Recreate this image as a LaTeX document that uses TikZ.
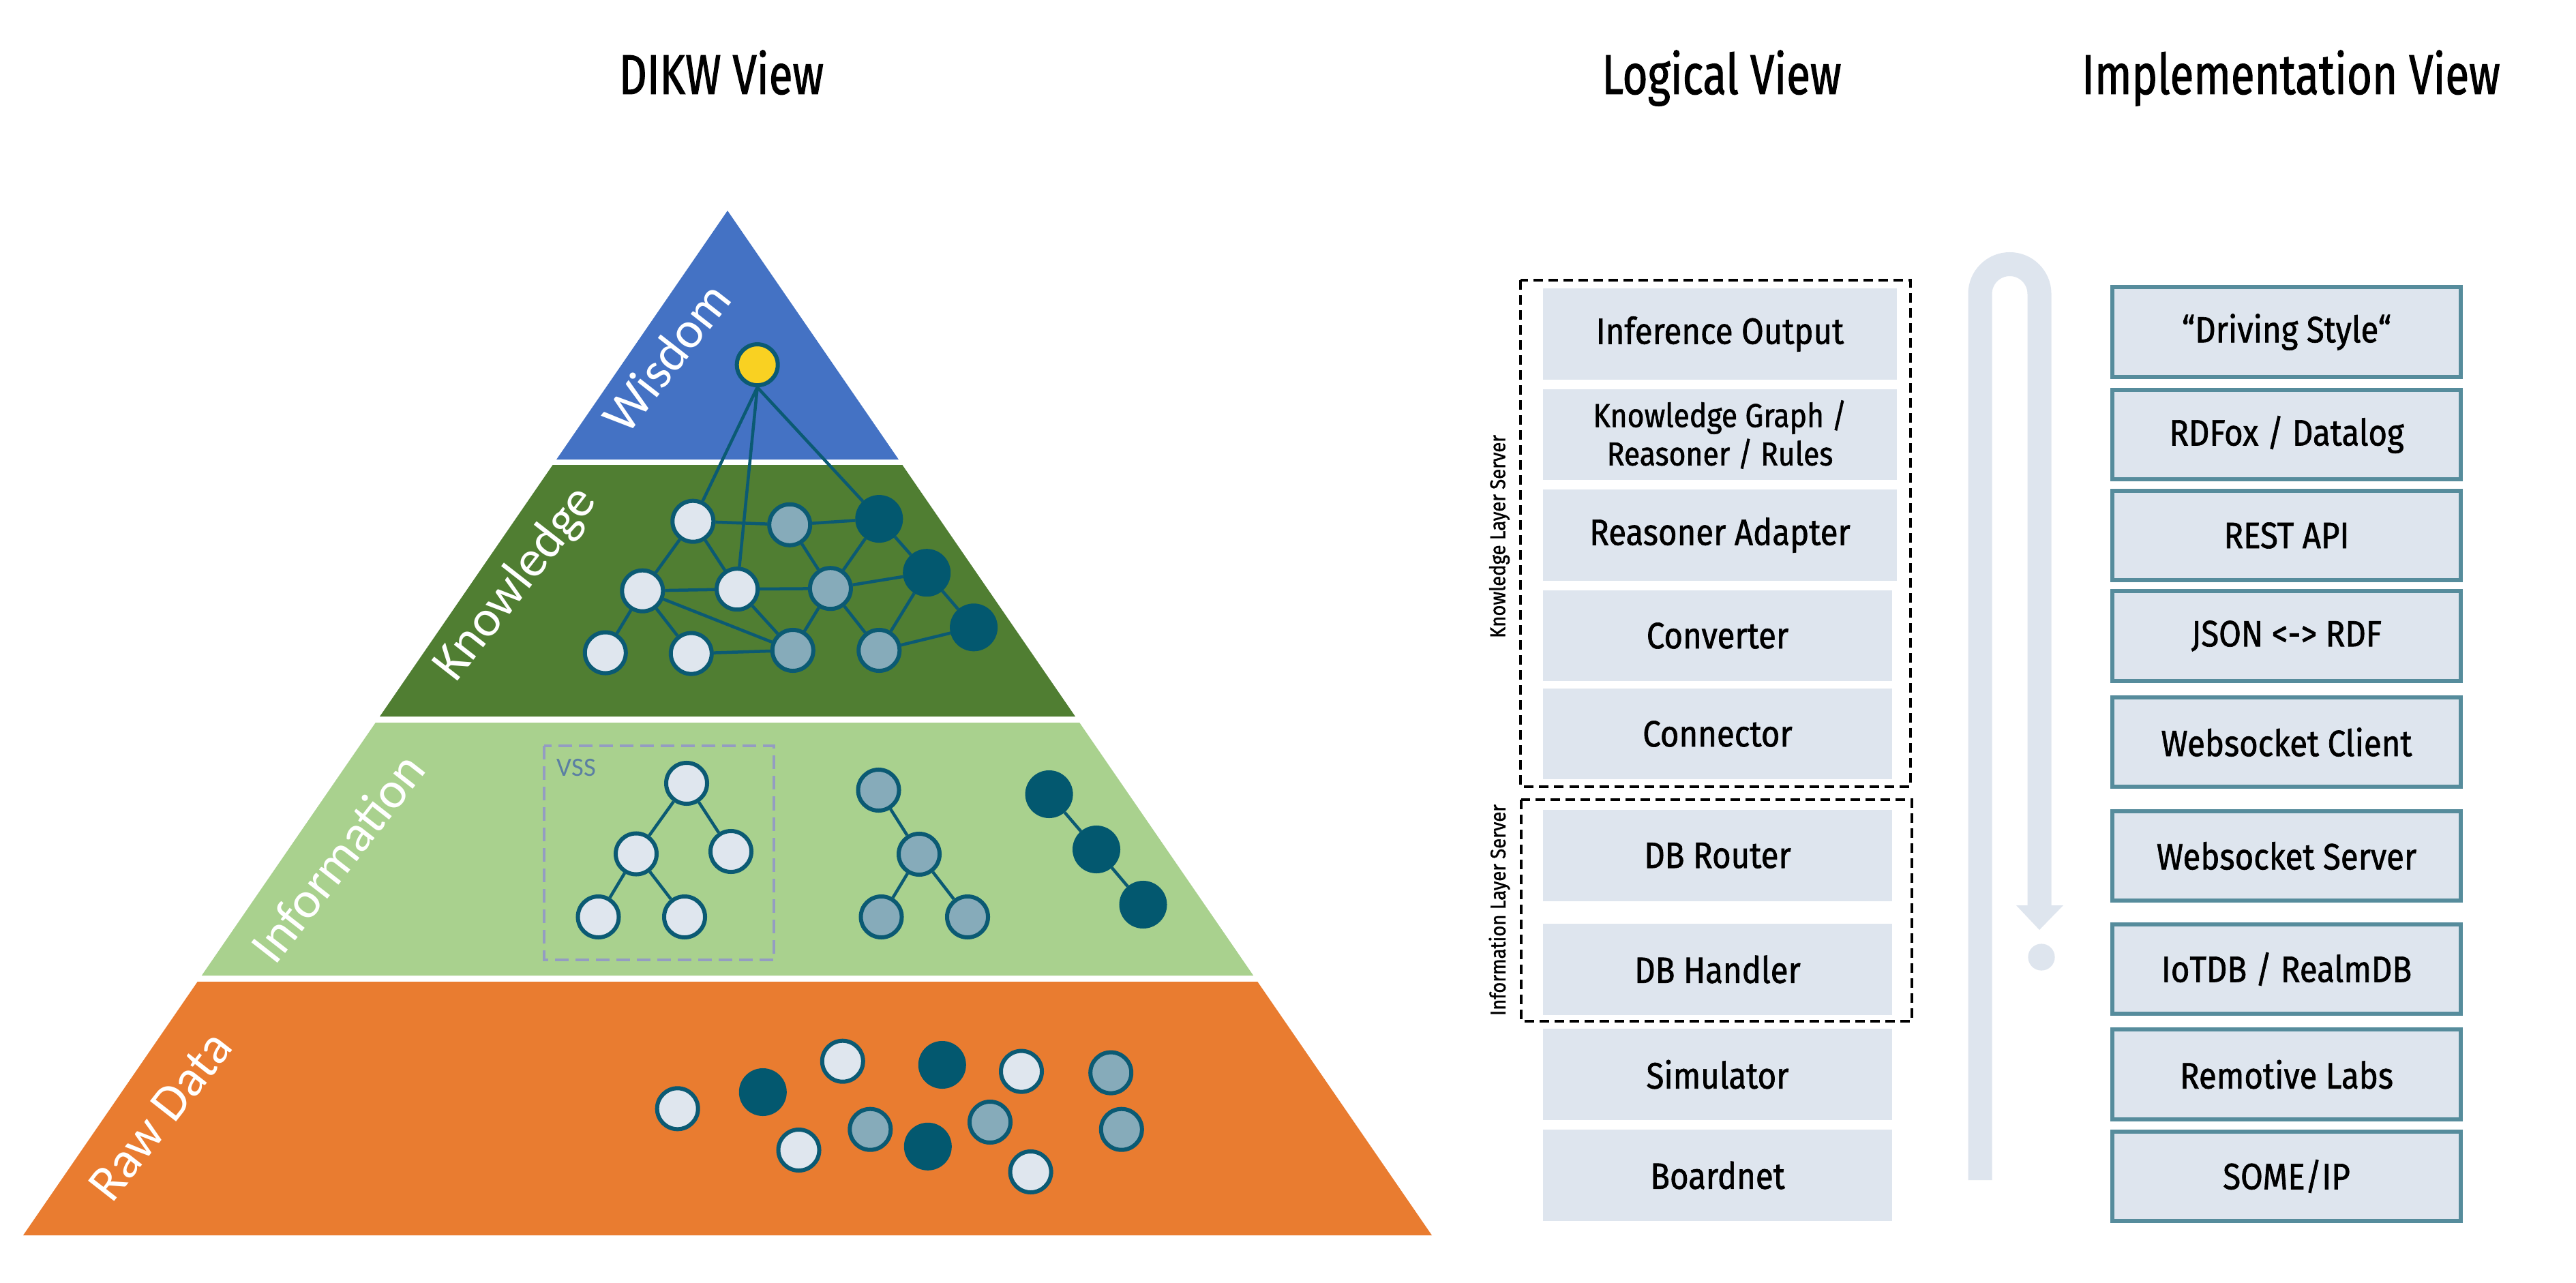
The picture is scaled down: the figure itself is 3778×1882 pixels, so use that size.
\documentclass[tikz,border=0pt]{standalone}
\usepackage{fontspec}
\setmainfont{Fira Sans}[FakeStretch=0.88, FakeBold=1.2]
\newfontfamily\ttlfamily{Fira Sans}[FakeStretch=0.77, FakeBold=1.2]
\newfontfamily\pyrfamily{Carlito}
\newcommand{\bxfont}{\fontsize{15.3pt}{18pt}\selectfont}
\newcommand{\kgfont}{\fontsize{13.8pt}{16pt}\selectfont}
\newcommand{\ttlfont}{\ttlfamily\fontsize{23.5pt}{26pt}\selectfont}
\newcommand{\pyrfont}{\pyrfamily\fontsize{21.5pt}{24pt}\selectfont}
\newcommand{\lblfont}{\fontsize{8.9pt}{10pt}\selectfont}
\newcommand{\vssfont}{\pyrfamily\fontsize{11pt}{12pt}\selectfont}
\definecolor{pyrblue}{HTML}{4472C4}
\definecolor{pyrdkgreen}{HTML}{507E32}
\definecolor{pyrltgreen}{HTML}{A9D18E}
\definecolor{pyrorange}{HTML}{E97C30}
\definecolor{nodelight}{HTML}{DFE6EE}
\definecolor{nodemid}{HTML}{86ABBA}
\definecolor{nodedark}{HTML}{03586F}
\definecolor{nodestroke}{HTML}{0B5A73}
\definecolor{nodeyellow}{HTML}{F9D122}
\definecolor{boxfill}{HTML}{DEE5EE}
\definecolor{implstroke}{HTML}{568C9C}
\definecolor{vssdash}{HTML}{949CC2}
\definecolor{vsstext}{HTML}{5B7FA3}
\tikzset{
  lbox/.style={rectangle, fill=boxfill, inner sep=0pt, minimum height=1.34cm, font=\bxfont, align=center},
  ibox/.style={rectangle, fill=boxfill, draw=implstroke, line width=0.06cm, inner sep=0pt,
    minimum width=5.11cm, minimum height=1.31cm, font=\bxfont, align=center},
  nlight/.style={circle, fill=nodelight, draw=nodestroke, line width=0.06cm, minimum size=0.60cm, inner sep=0pt},
  nmid/.style={nlight, fill=nodemid},
  ndark/.style={circle, fill=nodedark, draw=nodedark, line width=0.06cm, minimum size=0.64cm, inner sep=0pt},
  nyel/.style={nlight, fill=nodeyellow},
  edge/.style={draw=nodestroke, line width=0.045cm},
  pyrlabel/.style={text=white, font=\pyrfont, rotate=52, inner sep=0pt},
  viewtitle/.style={font=\ttlfont, anchor=base, inner sep=0pt},
  layerlabel/.style={font=\lblfont, rotate=90, inner sep=0pt},
  serverbox/.style={draw=black, line width=0.045cm, dash pattern=on 0.14cm off 0.08cm},
}
\begin{document}
\begin{tikzpicture}[x=0.01cm, y=-0.01cm]
\fill[white] (0,0) rectangle (3778,1882);
\useasboundingbox (0,0) rectangle (3778,1882);

% titles
\node[viewtitle] (t1) at (1058,138) {DIKW View};
\node[viewtitle] (t2) at (2525,138) {Logical View};
\node[viewtitle] (t3) at (3360,138) {Implementation View};

% pyramid bands
\fill[pyrblue] (1067,309) -- (1317.9,674) -- (816.1,674) -- cycle;
\fill[pyrdkgreen] (810.6,682) -- (1323.4,682) -- (1577,1051) -- (557,1051) -- cycle;
\fill[pyrltgreen] (550.8,1060) -- (1583.2,1060) -- (1838.2,1431) -- (295.8,1431) -- cycle;
\fill[pyrorange] (289.7,1440) -- (1844.3,1440) -- (2100,1812) -- (34,1812) -- cycle;

% pyramid labels
\node[pyrlabel] (lw) at (977,524) {Wisdom};
\node[pyrlabel] (lk) at (757,857) {Knowledge};
\node[pyrlabel] (li) at (495,1258) {Information};
\node[pyrlabel] (lr) at (235,1637) {Raw Data};

% VSS box
\draw[vssdash, line width=0.047cm, dash pattern=on 0.2cm off 0.1cm] (798,1094) rectangle (1135,1408);
\node[text=vsstext, font=\vssfont, anchor=base west, inner sep=0pt] (vss) at (816,1138) {VSS};

% wisdom + knowledge graph nodes
\node[nyel] (Y) at (1110.7,535.1) {};
\node[nlight] (K1) at (1016.3,764.7) {};
\node[nmid] (K2) at (1158.2,769.8) {};
\node[ndark] (K3) at (1289.3,761.1) {};
\node[nlight] (K4) at (942.3,866.7) {};
\node[nlight] (K5) at (1081.1,864.2) {};
\node[nmid] (K6) at (1217.9,863.2) {};
\node[ndark] (K7) at (1359.2,840.2) {};
\node[nlight] (K8) at (887.8,957.5) {};
\node[nlight] (K9) at (1013.8,958.6) {};
\node[nmid] (K10) at (1162.8,954) {};
\node[nmid] (K11) at (1289.3,954) {};
\node[ndark] (K12) at (1428.1,920.3) {};

% information trees
\node[nlight] (T1) at (1007,1149) {};
\node[nlight] (T2) at (933,1252.5) {};
\node[nlight] (T3) at (1072,1249) {};
\node[nlight] (T4) at (877.5,1345) {};
\node[nlight] (T5) at (1004,1345) {};
\node[nmid] (M1) at (1288.5,1159) {};
\node[nmid] (M2) at (1348,1253) {};
\node[nmid] (M3) at (1292.5,1345) {};
\node[nmid] (M4) at (1419,1345) {};
\node[ndark] (D1) at (1538.6,1165) {};
\node[ndark] (D2) at (1608,1246) {};
\node[ndark] (D3) at (1676.5,1327) {};

% raw data
\node[nlight] (R1) at (993.7,1626.3) {};
\node[ndark] (R2) at (1118.8,1602) {};
\node[nlight] (R3) at (1235.8,1556.7) {};
\node[nlight] (R4) at (1171.5,1687) {};
\node[nmid] (R5) at (1276.3,1656.7) {};
\node[ndark] (R6) at (1381.8,1562) {};
\node[ndark] (R7) at (1360.8,1681.8) {};
\node[nlight] (R8) at (1498,1571.6) {};
\node[nmid] (R9) at (1452,1646) {};
\node[nlight] (R10) at (1511.6,1719) {};
\node[nmid] (R11) at (1629.2,1573.6) {};
\node[nmid] (R12) at (1644.8,1656.7) {};

% edges
\path[edge] (Y.south) -- (K1) (Y.south) -- (K5) (Y.south) -- (K3)
  (K1) -- (K2) (K2) -- (K3) (K1) -- (K4) (K1) -- (K5) (K2) -- (K6) (K3) -- (K6) (K3) -- (K7)
  (K4) -- (K5) (K5) -- (K6) (K6) -- (K7) (K4) -- (K8) (K4) -- (K9) (K4) -- (K10)
  (K9) -- (K10) (K5) -- (K10) (K6) -- (K10) (K6) -- (K11) (K7) -- (K11) (K7) -- (K12) (K11) -- (K12)
  (T1) -- (T2) (T1) -- (T3) (T2) -- (T4) (T2) -- (T5)
  (M1) -- (M2) (M2) -- (M3) (M2) -- (M4)
  (D1) -- (D2) (D2) -- (D3);

% U-turn arrow
\draw[boxfill, line width=0.35cm] (2904,1731) -- (2904,431) arc[start angle=180, end angle=360, radius=43.5] -- (2991,1328);
\fill[boxfill] (2957,1328) -- (3026,1328) -- (2991,1364) -- cycle;
\fill[boxfill] (2994,1404) circle[radius=19.6];

% logical view
\node[lbox, minimum width=5.19cm] (io) at (2522.5,490) {Inference Output};
\node[lbox, minimum width=5.19cm, minimum height=1.33cm, font=\kgfont] (kg) at (2522.5,637.5) {Knowledge Graph /\\Reasoner / Rules};
\node[lbox, minimum width=5.19cm] (ra) at (2522.5,785) {Reasoner Adapter};
\node[lbox, minimum width=5.12cm, minimum height=1.33cm] (cv) at (2519,932.5) {Converter};
\node[lbox, minimum width=5.12cm, minimum height=1.33cm] (cn) at (2519,1076.5) {Connector};
\node[lbox, minimum width=5.12cm] (dbr) at (2519,1255) {DB Router};
\node[lbox, minimum width=5.12cm] (dbh) at (2519,1422) {DB Handler};
\node[lbox, minimum width=5.12cm] (sim) at (2519,1576) {Simulator};
\node[lbox, minimum width=5.12cm] (bn) at (2519,1724) {Boardnet};

\draw[serverbox] (2230,411) rectangle (2802,1154);
\draw[serverbox] (2231,1173) rectangle (2804,1498);
\node[layerlabel] (kls) at (2199,787) {Knowledge Layer Server};
\node[layerlabel] (ils) at (2199,1335) {Information Layer Server};

% implementation view
\node[ibox] (ds) at (3353.5,487) {“Driving Style“};
\node[ibox] (rdf) at (3353.5,637.5) {RDFox / Datalog};
\node[ibox] (rest) at (3353.5,785.5) {REST API};
\node[ibox] (json) at (3353.5,933) {JSON <-> RDF};
\node[ibox] (wsc) at (3353.5,1088.5) {Websocket Client};
\node[ibox] (wss) at (3353.5,1255.5) {Websocket Server};
\node[ibox] (iot) at (3353.5,1421.5) {IoTDB / RealmDB};
\node[ibox] (rem) at (3353.5,1576) {Remotive Labs};
\node[ibox] (some) at (3353.5,1725.5) {SOME/IP};
\end{tikzpicture}
\end{document}
